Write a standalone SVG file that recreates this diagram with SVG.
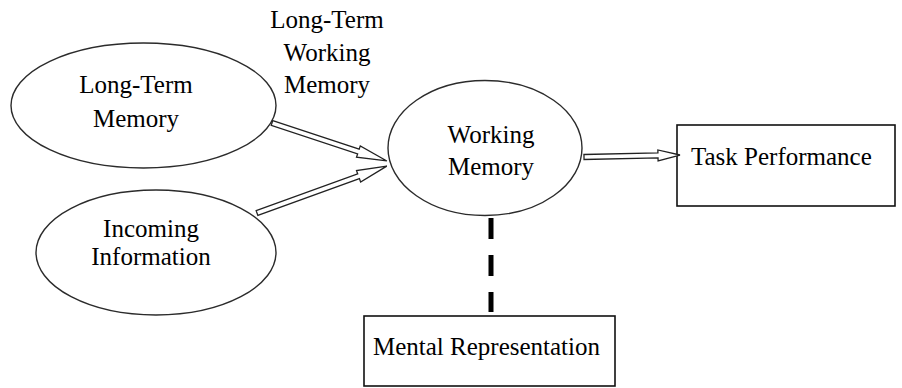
<svg xmlns="http://www.w3.org/2000/svg" width="902" height="388" viewBox="0 0 902 388">
<style>
.node ellipse{fill:#fff;stroke:#2b2b2b;stroke-width:1.4}
.node rect{fill:#fff;stroke:#111;stroke-width:1.6}
text{font-family:"Liberation Serif","Times New Roman",serif;font-size:25px;fill:#000}
.c{text-anchor:middle}
.arrow{fill:#fff;stroke:#222;stroke-width:1.3;stroke-linejoin:miter}
</style>
<rect width="902" height="388" fill="#fff"/>
<g id="label-ltwm">
<text class="c" x="327" y="28">Long-Term</text>
<text class="c" x="327" y="61">Working</text>
<text class="c" x="327" y="93">Memory</text>
</g>
<g id="node-ltm" class="node">
<ellipse cx="143.5" cy="105.5" rx="132.5" ry="62.5"/>
<text class="c" x="136" y="93">Long-Term</text>
<text class="c" x="136" y="127">Memory</text>
</g>
<g id="node-incoming" class="node">
<ellipse cx="156" cy="252.5" rx="120" ry="62.5"/>
<text class="c" x="151" y="237">Incoming</text>
<text class="c" x="151" y="265">Information</text>
</g>
<g id="node-wm" class="node">
<ellipse cx="485" cy="148" rx="97" ry="67.5"/>
<text class="c" x="491" y="143">Working</text>
<text class="c" x="491" y="175">Memory</text>
</g>
<g id="node-task" class="node">
<rect x="677" y="125" width="218" height="81"/>
<text x="691" y="165">Task Performance</text>
</g>
<g id="node-mental" class="node">
<rect x="364" y="316" width="251" height="70"/>
<text x="373" y="355">Mental Representation</text>
</g>
<g id="connectors">
<polygon class="arrow" transform="translate(272,123) rotate(18.29)" points="0,-2.5 91,-2.5 91,-6 121,0 91,6 91,2.5 0,2.5"/>
<polygon class="arrow" transform="translate(257,213) rotate(-19.87)" points="0,-2.5 108,-2.5 108,-6 138,0 108,6 108,2.5 0,2.5"/>
<polygon class="arrow" transform="translate(584,157) rotate(-1.19)" points="0,-2.5 74,-2.5 74,-5.5 96,0 74,5.5 74,2.5 0,2.5"/>
<line x1="491" y1="218" x2="491" y2="312" stroke="#000" stroke-width="5" stroke-dasharray="21 16"/>
</g>
</svg>
